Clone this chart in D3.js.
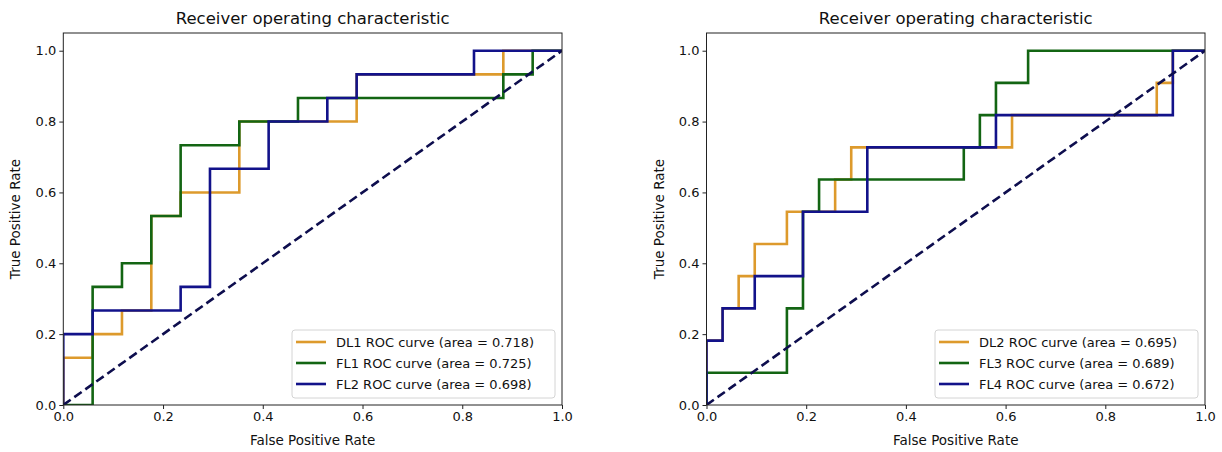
<!DOCTYPE html>
<html>
<head>
<meta charset="utf-8">
<script src="https://cdn.jsdelivr.net/npm/d3@7"></script>
<style>
  html, body { margin: 0; padding: 0; background: #fff; }
  svg { display: block; font-family: "DejaVu Sans", sans-serif; }
</style>
</head>
<body>
<svg id="chart" width="1222" height="452"></svg>
<script>
// ---------- data ----------
const ticks = [0.0, 0.2, 0.4, 0.6, 0.8, 1.0];
const titleText = "Receiver operating characteristic";
const xLabel = "False Positive Rate";
const yLabel = "True Positive Rate";

// Left panel (17 negatives, 15 positives)
const dl1Fpr = [0, 0, 1/17, 1/17, 2/17, 2/17, 3/17, 3/17, 4/17, 4/17, 6/17, 6/17, 10/17, 10/17, 15/17, 15/17, 1];
const dl1Tpr = [0, 2/15, 2/15, 3/15, 3/15, 4/15, 4/15, 8/15, 8/15, 9/15, 9/15, 12/15, 12/15, 14/15, 14/15, 1, 1];
const fl1Fpr = [0, 1/17, 1/17, 2/17, 2/17, 3/17, 3/17, 4/17, 4/17, 6/17, 6/17, 8/17, 8/17, 15/17, 15/17, 16/17, 16/17, 1];
const fl1Tpr = [0, 0, 5/15, 5/15, 6/15, 6/15, 8/15, 8/15, 11/15, 11/15, 12/15, 12/15, 13/15, 13/15, 14/15, 14/15, 1, 1];
const fl2Fpr = [0, 0, 1/17, 1/17, 4/17, 4/17, 5/17, 5/17, 7/17, 7/17, 9/17, 9/17, 10/17, 10/17, 14/17, 14/17, 1];
const fl2Tpr = [0, 3/15, 3/15, 4/15, 4/15, 5/15, 5/15, 10/15, 10/15, 12/15, 12/15, 13/15, 13/15, 14/15, 14/15, 1, 1];

// Right panel (31 negatives, 11 positives)
const dl2Fpr = [0, 0, 1/31, 1/31, 2/31, 2/31, 3/31, 3/31, 5/31, 5/31, 8/31, 8/31, 9/31, 9/31, 19/31, 19/31, 28/31, 28/31, 29/31, 29/31, 1];
const dl2Tpr = [0, 2/11, 2/11, 3/11, 3/11, 4/11, 4/11, 5/11, 5/11, 6/11, 6/11, 7/11, 7/11, 8/11, 8/11, 9/11, 9/11, 10/11, 10/11, 1, 1];
const fl3Fpr = [0, 0, 5/31, 5/31, 6/31, 6/31, 7/31, 7/31, 16/31, 16/31, 17/31, 17/31, 18/31, 18/31, 20/31, 20/31, 1];
const fl3Tpr = [0, 1/11, 1/11, 3/11, 3/11, 6/11, 6/11, 7/11, 7/11, 8/11, 8/11, 9/11, 9/11, 10/11, 10/11, 1, 1];
const fl4Fpr = [0, 0, 1/31, 1/31, 3/31, 3/31, 6/31, 6/31, 10/31, 10/31, 18/31, 18/31, 29/31, 29/31, 1];
const fl4Tpr = [0, 2/11, 2/11, 3/11, 3/11, 4/11, 4/11, 6/11, 6/11, 8/11, 8/11, 9/11, 9/11, 1, 1];

const leftNames = ["DL1 ROC curve (area = 0.718)", "FL1 ROC curve (area = 0.725)", "FL2 ROC curve (area = 0.698)"];
const rightNames = ["DL2 ROC curve (area = 0.695)", "FL3 ROC curve (area = 0.689)", "FL4 ROC curve (area = 0.672)"];
const colors = ["#dd9a2c", "#136513", "#12128a"];
const diagColor = "#0e0e4e";

// ---------- drawing ----------
const svg = d3.select("#chart");

function panel(left, right, series, names) {
  const top = 33, bottom = 405;
  const x = d3.scaleLinear().domain([0, 1]).range([left, right]);
  const y = d3.scaleLinear().domain([0, 1.05]).range([bottom, top]);
  const g = svg.append("g");

  const id = "clip" + Math.round(left);
  svg.append("clipPath").attr("id", id).append("rect")
    .attr("x", left).attr("y", top).attr("width", right - left).attr("height", bottom - top);

  const plot = g.append("g").attr("clip-path", `url(#${id})`);
  const line = d3.line().x(d => x(d[0])).y(d => y(d[1]));

  series.forEach((s, i) => {
    const pts = s[0].map((v, k) => [v, s[1][k]]);
    plot.append("path").datum(pts).attr("d", line)
      .attr("fill", "none").attr("stroke", colors[i]).attr("stroke-width", 2.6)
      .attr("stroke-linejoin", "miter").attr("stroke-linecap", "square");
  });
  plot.append("path").datum([[0, 0], [1, 1]]).attr("d", line)
    .attr("fill", "none").attr("stroke", diagColor).attr("stroke-width", 2.6)
    .attr("stroke-dasharray", "9,4.5");

  const xa = g.append("g").attr("transform", `translate(0,${bottom})`)
    .call(d3.axisBottom(x).tickValues(ticks).tickFormat(d3.format(".1f")).tickSize(4).tickPadding(3));
  const ya = g.append("g").attr("transform", `translate(${left},0)`)
    .call(d3.axisLeft(y).tickValues(ticks).tickFormat(d3.format(".1f")).tickSize(4).tickPadding(3));
  [xa, ya].forEach(a => {
    a.select(".domain").remove();
    a.selectAll("text").attr("font-size", 13).attr("fill", "#111").attr("font-family", "DejaVu Sans");
    a.selectAll("line").attr("stroke", "#222");
  });
  g.append("rect").attr("x", left).attr("y", top).attr("width", right - left).attr("height", bottom - top)
    .attr("fill", "none").attr("stroke", "#222").attr("stroke-width", 1);

  g.append("text").attr("x", (left + right) / 2).attr("y", 24).attr("text-anchor", "middle")
    .attr("font-size", 16.5).attr("fill", "#111").text(titleText);
  g.append("text").attr("x", (left + right) / 2).attr("y", 445).attr("text-anchor", "middle")
    .attr("font-size", 13.5).attr("fill", "#111").text(xLabel);
  g.append("text").attr("transform", `translate(${left - 43},${(top + bottom) / 2}) rotate(-90)`)
    .attr("text-anchor", "middle").attr("font-size", 13.5).attr("fill", "#111").text(yLabel);

  const lw = 263, lh = 68;
  const lx = right - 7 - lw, ly = bottom - 7 - lh;
  const leg = g.append("g");
  leg.append("rect").attr("x", lx).attr("y", ly).attr("width", lw).attr("height", lh)
    .attr("rx", 3).attr("fill", "rgba(255,255,255,0.85)").attr("stroke", "#d4d4d4");
  names.forEach((n, i) => {
    const cy = ly + 12 + i * 21;
    leg.append("line").attr("x1", lx + 4).attr("x2", lx + 34).attr("y1", cy).attr("y2", cy)
      .attr("stroke", colors[i]).attr("stroke-width", 2.6);
    leg.append("text").attr("x", lx + 44).attr("y", cy + 4.5).attr("font-size", 13)
      .attr("fill", "#111").text(n);
  });
}

panel(63.3, 562, [[dl1Fpr, dl1Tpr], [fl1Fpr, fl1Tpr], [fl2Fpr, fl2Tpr]], leftNames);
panel(706.5, 1205, [[dl2Fpr, dl2Tpr], [fl3Fpr, fl3Tpr], [fl4Fpr, fl4Tpr]], rightNames);
</script>
</body>
</html>
